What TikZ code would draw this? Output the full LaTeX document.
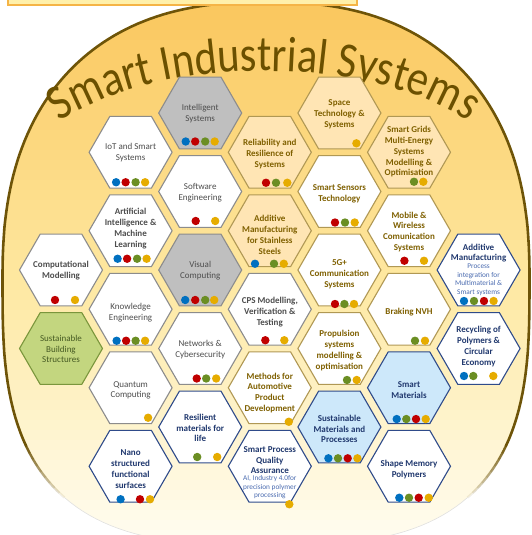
\documentclass[tikz,border=0pt]{standalone}
\usepackage{fontspec}
\setmainfont{Carlito}
\newfontfamily\titlefont[FakeStretch=0.85]{Carlito}
\usetikzlibrary{shapes.geometric, positioning, calc, decorations.text}

% backdrop and title
\definecolor{sisTitle}{RGB}{107,80,0}
\definecolor{sisRim}{RGB}{110,84,8}
\definecolor{sisTop}{RGB}{250,198,92}
\definecolor{sisMid}{RGB}{254,232,160}
\definecolor{sisLow}{RGB}{255,253,242}
\definecolor{barFill}{RGB}{255,240,170}
\definecolor{barEdge}{RGB}{245,180,70}
% cell fills and edges
\definecolor{cellGold}{RGB}{255,229,180}
\definecolor{cellGrey}{RGB}{191,191,191}
\definecolor{cellGreen}{RGB}{195,214,127}
\definecolor{cellBlue}{RGB}{205,232,250}
\definecolor{edgeOlive}{RGB}{176,152,84}
\definecolor{edgeGrey}{RGB}{140,140,140}
\definecolor{edgeNavy}{RGB}{47,75,138}
\definecolor{edgeGreen}{RGB}{122,150,60}
% text
\definecolor{txtGrey}{RGB}{77,77,77}
\definecolor{txtOlive}{RGB}{127,96,0}
\definecolor{txtNavy}{RGB}{32,56,110}
\definecolor{txtSub}{RGB}{74,107,176}
\definecolor{txtGreen}{RGB}{70,90,35}
% tags
\definecolor{dotB}{RGB}{0,112,192}
\definecolor{dotR}{RGB}{192,0,0}
\definecolor{dotG}{RGB}{107,142,35}
\definecolor{dotY}{RGB}{230,172,0}

\begin{document}
\begin{tikzpicture}[x=1pt, y=-1pt,
    cell/.style={
        regular polygon,
        regular polygon sides=6,
        minimum size=83pt,
        inner sep=0pt,
        line width=1.1pt,
        draw=#1
    },
    word/.style={align=center, inner sep=0pt, text=#1,
        font=\fontsize{9}{10.8}\selectfont},
    bword/.style={align=center, inner sep=0pt, text=#1,
        font=\fontsize{9}{10.8}\selectfont\bfseries},
    subword/.style={align=center, inner sep=0pt, text=txtSub,
        font=\fontsize{7.3}{8.6}\selectfont},
    rim/.style={sisRim, line width=2.6pt}
]
    \useasboundingbox (0,0) rectangle (531,535);
    \clip (0,0) rectangle (531,535);

    % Backdrop: rounded squarish disc, filled in horizontal bands
    \begin{scope}
        \clip plot[domain=180.05:359.95, samples=120]
                ({266+263.5*sign(cos(\x))*abs(cos(\x))^(0.8333)}, {280-278*abs(sin(\x))^(0.8333)})
            -- plot[domain=0.05:179.95, samples=90]
                ({266+263.5*sign(cos(\x))*abs(cos(\x))^(0.6667)}, {280+265*abs(sin(\x))^(0.6667)})
            -- cycle;
        \foreach \k in {0,...,54} {
            \pgfmathsetmacro\yy{10*\k+5}
            \ifdim\yy pt<280pt
                \pgfmathtruncatemacro\p{100*(1-\yy/280)}
                \colorlet{band}{sisTop!\p!sisMid}
            \else
                \pgfmathtruncatemacro\p{100*(1-(\yy-280)/265)}
                \colorlet{band}{sisMid!\p!sisLow}
            \fi
            \fill[band] (0,{10*\k}) rectangle (531,{10*\k+10.6});
        }
    \end{scope}
    \draw[rim] plot[domain=150:179.95, samples=16]
            ({266+263.5*sign(cos(\x))*abs(cos(\x))^(0.6667)}, {280+265*abs(sin(\x))^(0.6667)})
        -- plot[domain=180.05:359.95, samples=120]
            ({266+263.5*sign(cos(\x))*abs(cos(\x))^(0.8333)}, {280-278*abs(sin(\x))^(0.8333)})
        -- plot[domain=0.05:30, samples=16]
            ({266+263.5*sign(cos(\x))*abs(cos(\x))^(0.6667)}, {280+265*abs(sin(\x))^(0.6667)});
    \foreach \i in {0,...,8} {
        \pgfmathsetmacro\op{0.9-0.1*\i}
        \draw[rim, line width=2.4pt, opacity=\op] plot[domain={30+2*\i}:{32+2*\i}, samples=3]
            ({266+263.5*sign(cos(\x))*abs(cos(\x))^(0.6667)}, {280+265*abs(sin(\x))^(0.6667)});
        \draw[rim, line width=2.4pt, opacity=\op] plot[domain={148-2*\i}:{150-2*\i}, samples=3]
            ({266+263.5*sign(cos(\x))*abs(cos(\x))^(0.6667)}, {280+265*abs(sin(\x))^(0.6667)});
    }
    \draw[black!12, line width=0.6pt] plot[domain=48:132, samples=40]
        ({266+263.5*sign(cos(\x))*abs(cos(\x))^(0.6667)}, {280+265*abs(sin(\x))^(0.6667)});
    \draw[barEdge, fill=barFill, line width=1.2pt] (8,-5) rectangle (357,5);

    % Title
    \path[decorate, decoration={text along path, text align=center, text color=sisTitle,
        text={|\titlefont\fontsize{50}{50}\selectfont|Smart Industrial Systems}}]
        (264,179) ++(180:240 and 108) arc[start angle=180, end angle=360, x radius=240, y radius=108];

    % Column A
    \node[cell=edgeGrey, fill=white] (compmod) at (61,270) {};
    \node[bword=txtGrey] (compmod-t) at ($(compmod)+(0,0.5)$) {Computational\\Modelling};
    \node[cell=edgeGreen, fill=cellGreen] (susbuild) at (61,348.5) {};
    \node[word=txtGreen] (susbuild-t) at ($(susbuild)+(0,0.5)$) {Sustainable\\Building\\Structures};

    % Column B
    \node[cell=edgeGrey, fill=white] (iot) at (130.6,152.25) {};
    \node[word=txtGrey] (iot-t) at ($(iot)+(0,0.5)$) {IoT and Smart\\Systems};
    \node[cell=edgeGrey, fill=white] (aiml) at (130.6,230.75) {};
    \node[bword=txtGrey] (aiml-t) at ($(aiml)+(0,-2)$) {Artificial\\Intelligence \&\\Machine\\Learning};
    \node[cell=edgeGrey, fill=white] (knoweng) at (130.6,309.25) {};
    \node[word=txtGrey] (knoweng-t) at ($(knoweng)+(0,3)$) {Knowledge\\Engineering};
    \node[cell=edgeGrey, fill=white] (quantum) at (130.6,387.75) {};
    \node[word=txtGrey] (quantum-t) at ($(quantum)+(0,2.5)$) {Quantum\\Computing};
    \node[cell=edgeNavy, fill=white] (nano) at (130.6,466.25) {};
    \node[bword=txtNavy] (nano-t) at ($(nano)+(0,3)$) {Nano\\structured\\functional\\surfaces};

    % Column C
    \node[cell=edgeGrey, fill=cellGrey] (intsys) at (200.2,113) {};
    \node[word=txtGrey] (intsys-t) at ($(intsys)+(0,0.5)$) {Intelligent\\Systems};
    \node[cell=edgeGrey, fill=white] (softeng) at (200.2,191.5) {};
    \node[word=txtGrey] (softeng-t) at ($(softeng)+(0,1.5)$) {Software\\Engineering};
    \node[cell=edgeGrey, fill=cellGrey] (viscomp) at (200.2,270) {};
    \node[word=txtGrey] (viscomp-t) at ($(viscomp)+(0,1)$) {Visual\\Computing};
    \node[cell=edgeGrey, fill=white] (networks) at (200.2,348.5) {};
    \node[word=txtGrey] (networks-t) at ($(networks)+(0,1)$) {Networks \&\\Cybersecurity};
    \node[cell=edgeNavy, fill=white] (resil) at (200.2,427) {};
    \node[bword=txtNavy] (resil-t) at ($(resil)+(0,1)$) {Resilient\\materials for\\life};

    % Column D
    \node[cell=edgeOlive, fill=cellGold] (relia) at (269.8,152.25) {};
    \node[bword=txtOlive] (relia-t) at ($(relia)+(0,2)$) {Reliability and\\Resilience of\\Systems};
    \node[cell=edgeOlive, fill=cellGold] (addss) at (269.8,230.75) {};
    \node[bword=txtOlive] (addss-t) at ($(addss)+(0,4)$) {Additive\\Manufacturing\\for Stainless\\Steels};
    \node[cell=edgeGrey, fill=white] (cps) at (269.8,309.25) {};
    \node[bword=txtGrey] (cps-t) at ($(cps)+(0,3)$) {CPS Modelling,\\Verification \&\\Testing};
    \node[cell=edgeOlive, fill=white] (methods) at (269.8,387.75) {};
    \node[bword=txtOlive] (methods-t) at ($(methods)+(0,5)$) {Methods for\\Automotive\\Product\\Development};
    \node[cell=edgeNavy, fill=white] (spqa) at (269.8,466.25) {};
    \node[bword=txtNavy] (spqa-t) at ($(spqa)+(0,-6)$) {Smart Process\\Quality\\Assurance};
    \node[subword, below=1pt of spqa-t] (spqa-s) {AI, Industry 4.0for\\precision polymer\\processing};

    % Column E
    \node[cell=edgeOlive, fill=cellGold] (space) at (339.4,113) {};
    \node[bword=txtOlive] (space-t) at ($(space)+(0,1)$) {Space\\Technology \&\\Systems};
    \node[cell=edgeOlive, fill=white] (sensors) at (339.4,191.5) {};
    \node[bword=txtOlive] (sensors-t) at ($(sensors)+(0,2)$) {Smart Sensors\\Technology};
    \node[cell=edgeOlive, fill=white] (fiveg) at (339.4,270) {};
    \node[bword=txtOlive] (fiveg-t) at ($(fiveg)+(0,4)$) {5G+\\Communication\\Systems};
    \node[cell=edgeOlive, fill=white] (propul) at (339.4,348.5) {};
    \node[bword=txtOlive] (propul-t) at ($(propul)+(0,2)$) {Propulsion\\systems\\modelling \&\\optimisation};
    \node[cell=edgeNavy, fill=cellBlue] (susmat) at (339.4,427) {};
    \node[bword=txtNavy] (susmat-t) at ($(susmat)+(0,2)$) {Sustainable\\Materials and\\Processes};

    % Column F
    \node[cell=edgeOlive, fill=cellGold] (grids) at (409,152.25) {};
    \node[bword=txtOlive] (grids-t) at ($(grids)+(0,-0.5)$) {Smart Grids\\Multi-Energy\\Systems\\Modelling \&\\Optimisation};
    \node[cell=edgeOlive, fill=white] (mobile) at (409,230.75) {};
    \node[bword=txtOlive] (mobile-t) at ($(mobile)+(0,1)$) {Mobile \&\\Wireless\\Comunication\\Systems};
    \node[cell=edgeOlive, fill=white] (braking) at (409,309.25) {};
    \node[bword=txtOlive] (braking-t) at ($(braking)+(0,2.5)$) {Braking NVH};
    \node[cell=edgeNavy, fill=cellBlue] (smartmat) at (409,387.75) {};
    \node[bword=txtNavy] (smartmat-t) at ($(smartmat)+(0,2)$) {Smart\\Materials};
    \node[cell=edgeNavy, fill=white] (shapemem) at (409,466.25) {};
    \node[bword=txtNavy] (shapemem-t) at ($(shapemem)+(0,3)$) {Shape Memory\\Polymers};

    % Column G
    \node[cell=edgeNavy, fill=white] (addman) at (478.6,270) {};
    \node[bword=txtNavy] (addman-t) at ($(addman)+(0,-17)$) {Additive\\Manufacturing};
    \node[subword, below=1pt of addman-t] (addman-s) {Process\\integration for\\Multimaterial \&\\Smart systems};
    \node[cell=edgeNavy, fill=white] (recyc) at (478.6,348.5) {};
    \node[bword=txtNavy] (recyc-t) at ($(recyc)+(0,-2)$) {Recycling of\\Polymers \&\\Circular\\Economy};

    % Tag dots under each cell
    \foreach \cellname/\dy/\marks in {
        compmod/30/{dotR/-6,dotY/14},
        iot/30/{dotB/-14.5,dotR/-5,dotG/5,dotY/14.5},
        aiml/28/{dotB/-13,dotR/-3.5,dotG/6.5,dotY/16},
        knoweng/31.5/{dotB/-14,dotR/-4.5,dotG/5,dotY/14.5},
        quantum/30/{dotY/17.5},
        nano/33/{dotB/-10,dotR/9.4,dotY/19.4},
        intsys/28.5/{dotB/-14.5,dotR/-5,dotG/5,dotY/14.5},
        softeng/29.5/{dotR/-4.5,dotY/15},
        viscomp/30/{dotB/-15,dotR/-5,dotG/5,dotY/14},
        networks/30/{dotR/-3.5,dotG/6,dotY/16},
        resil/30/{dotG/-3,dotY/17},
        relia/30.5/{dotR/-3.8,dotG/6.2,dotY/17.5},
        addss/33/{dotB/-14.8,dotG/4.2,dotY/14},
        cps/31/{dotR/-4.5,dotY/14.5},
        methods/34/{dotY/19},
        spqa/38/{dotY/19.5},
        space/30.3/{dotY/17},
        sensors/31/{dotR/-4.4,dotG/5.6,dotY/15.3},
        fiveg/34/{dotR/-4.4,dotG/5,dotY/14.6},
        propul/31.5/{dotG/7.6,dotY/17.3},
        susmat/31.3/{dotB/-11,dotG/-1.4,dotR/8.3,dotY/18},
        grids/29.5/{dotG/5,dotY/14.3},
        mobile/30/{dotR/-4.6,dotY/15},
        braking/31.5/{dotG/6,dotY/16},
        smartmat/31.3/{dotB/-12.3,dotG/-2.7,dotR/7,dotY/16.7},
        shapemem/31.5/{dotB/-9.7,dotG/0,dotR/9.7,dotY/19.7},
        addman/31/{dotB/-14.6,dotG/-4.6,dotR/5.4,dotY/15},
        recyc/27.5/{dotB/-14.6,dotG/-5.3,dotY/14.7}} {
        \foreach \col/\dx in \marks {
            \fill[\col] ($(\cellname)+(\dx,\dy)$) circle (4.2);
        }
    }

\end{tikzpicture}
\end{document}
